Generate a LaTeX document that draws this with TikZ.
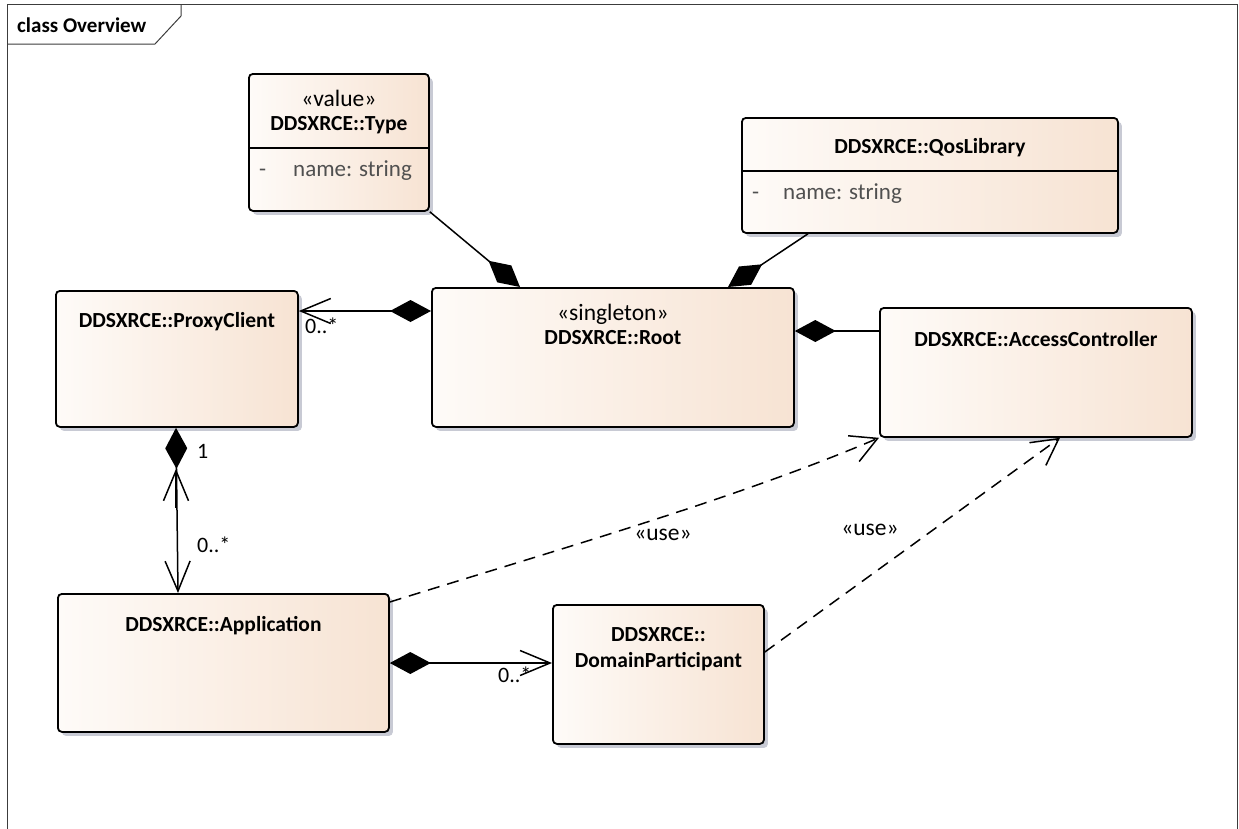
\documentclass[tikz,border=0pt]{standalone}
\usepackage{fontspec}
\setmainfont{Carlito}
\usetikzlibrary{arrows.meta,shadows,calc}
\definecolor{boxL}{RGB}{254,251,248}
\definecolor{boxR}{RGB}{247,227,211}
\definecolor{shadowc}{RGB}{200,202,212}
\definecolor{attrc}{RGB}{80,80,80}
\definecolor{framec}{RGB}{60,60,60}
\tikzset{
  cls/.style={draw=black, line width=1.8pt, rounded corners=4pt, left color=boxL, right color=boxR,
    anchor=north west, inner sep=0pt,
    drop shadow={shadow xshift=4pt, shadow yshift=-4pt, fill=shadowc, opacity=1}},
  ttl/.style={font=\bfseries\fontsize{21.5}{25}\selectfont, anchor=base, inner sep=0pt},
  ster/.style={font=\fontsize{23.5}{27}\selectfont, anchor=base, inner sep=0pt},
  attr/.style={font=\fontsize{23}{27}\selectfont, text=attrc, anchor=base west, inner sep=0pt},
  mult/.style={font=\fontsize{22}{26}\selectfont, anchor=base west, inner sep=0pt},
  conn/.style={line width=1.5pt},
  comp/.style={conn, {Diamond[length=41pt,width=22pt]}-},
  nav/.style={conn, -{Straight Barb[length=30pt,width=25pt]}},
  compnav/.style={conn, {Diamond[length=41pt,width=22pt]}-{Straight Barb[length=30pt,width=25pt]}},
  usedep/.style={conn, dash pattern=on 12pt off 8pt, -{Straight Barb[length=26pt,width=28pt]}},
}
\begin{document}
\begin{tikzpicture}[x=1pt,y=-1pt]
\useasboundingbox (0,0) rectangle (1239,828);
% frame
\draw[framec, line width=1pt] (7,830) -- (7,4) -- (1237,4) -- (1237,830);
\draw[framec, line width=1pt] (7,44) -- (155,44) -- (181,16) -- (181,4);
\node[font=\bfseries\fontsize{21}{24}\selectfont, anchor=base west, inner sep=0pt] (frameLabel) at (17,32) {class Overview};

% classes
\node[cls, minimum width=180pt, minimum height=137pt] (type) at (248,73) {};
\node[cls, minimum width=376pt, minimum height=115pt] (qos) at (741,117) {};
\node[cls, minimum width=242pt, minimum height=136pt] (pc) at (55,290) {};
\node[cls, minimum width=362pt, minimum height=139pt] (root) at (431,287) {};
\node[cls, minimum width=312pt, minimum height=129pt] (ac) at (879,307) {};
\node[cls, minimum width=331pt, minimum height=138pt] (app) at (57,593) {};
\node[cls, minimum width=211pt, minimum height=139pt] (dp) at (552,604) {};

% compartments
\draw[line width=1.5pt] ([yshift=-75pt]type.north west) -- ([yshift=-75pt]type.north east);
\draw[line width=1.5pt] ([yshift=-54pt]qos.north west) -- ([yshift=-54pt]qos.north east);

% texts
\node[ster] (typeS) at ([yshift=-33pt]type.north) {«value»};
\node[ttl] (typeT) at ([yshift=-57pt]type.north) {DDSXRCE::Type};
\node[attr] (typeA1) at ([xshift=11pt,yshift=-103pt]type.north west) {-};
\node[attr] (typeA2) at ([xshift=45pt,yshift=-103pt]type.north west) {name: string};

\node[ttl] (qosT) at ([yshift=-36pt]qos.north) {DDSXRCE::QosLibrary};
\node[attr] (qosA1) at ([xshift=11pt,yshift=-82pt]qos.north west) {-};
\node[attr] (qosA2) at ([xshift=42pt,yshift=-82pt]qos.north west) {name: string};

\node[ttl] (pcT) at ([yshift=-37pt]pc.north) {DDSXRCE::ProxyClient};
\node[ster] (rootS) at ([yshift=-33pt]root.north) {«singleton»};
\node[ttl] (rootT) at ([yshift=-57pt]root.north) {DDSXRCE::Root};
\node[ttl] (acT) at ([yshift=-39pt]ac.north) {DDSXRCE::AccessController};
\node[ttl] (appT) at ([yshift=-38pt]app.north) {DDSXRCE::Application};
\node[ttl] (dpT1) at ([yshift=-37pt]dp.north) {DDSXRCE::};
\node[ttl] (dpT2) at ([yshift=-63pt]dp.north) {DomainParticipant};

% connectors
\draw[comp] ([xshift=89pt]root.north west) -- (type.south east);
\draw[comp] ([xshift=297pt]root.north west) -- ([xshift=67pt]qos.south west);
\draw[compnav] ([yshift=-24pt]root.north west) -- ([yshift=-21pt]pc.north east);
\draw[comp] ([yshift=-44pt]root.north east) -- ([yshift=-24pt]ac.north west);
\draw[compnav] ([xshift=121pt]pc.south west) -- ([xshift=121pt]app.north west);
\draw[nav] ([xshift=121pt,yshift=-80pt]pc.south west) -- ([xshift=121pt,yshift=-41pt]pc.south west);
\draw[compnav] ([yshift=-70pt]app.north east) -- ([yshift=-59pt]dp.north west);
\draw[usedep] ([yshift=-9pt]app.north east) .. controls +(160,-50) and +(-140,60) .. (ac.south west);
\draw[usedep] ([yshift=-48pt]dp.north east) -- ([xshift=181pt]ac.south west);

% labels
\node[mult] (m1) at (305,333) {0..*};
\node[mult] (m2) at (197,458) {1};
\node[mult] (m3) at (197,552) {0..*};
\node[mult] (m4) at (498,682) {0..*};
\node[ster] (u1) at (663,540) {«use»};
\node[ster] (u2) at (870,535) {«use»};
\end{tikzpicture}
\end{document}
